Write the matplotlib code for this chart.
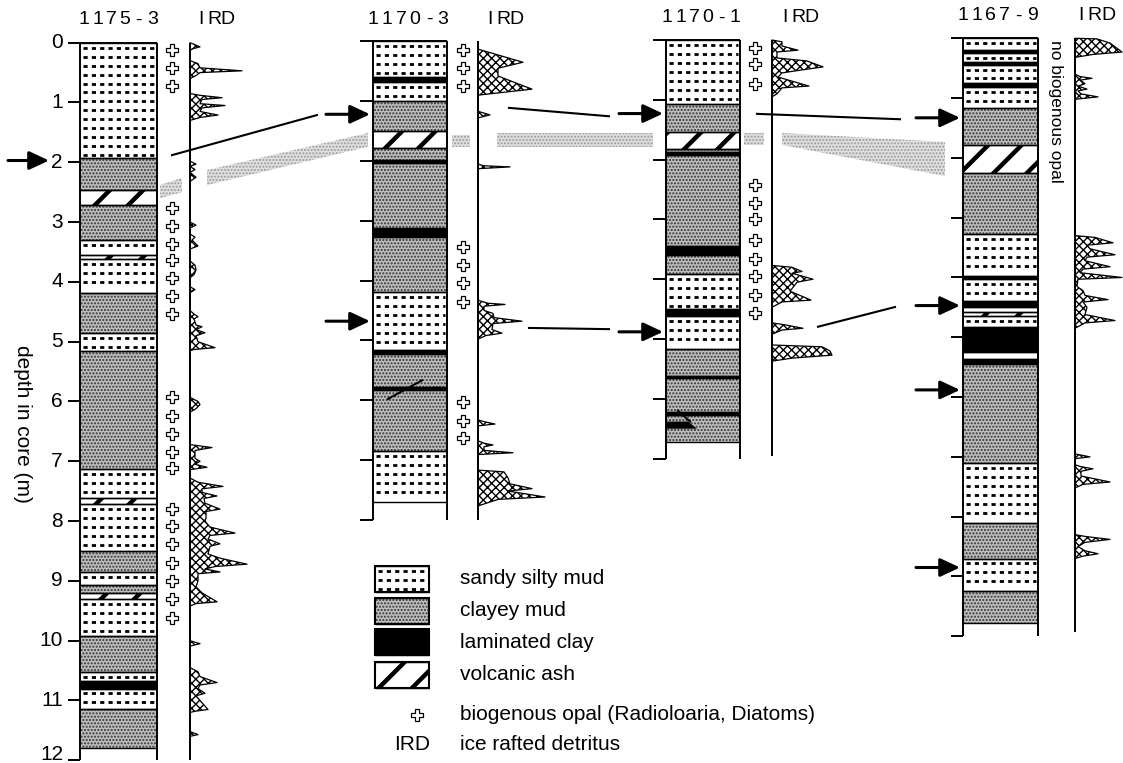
import numpy as np
import matplotlib.pyplot as plt
from matplotlib.patches import Rectangle, Polygon

plt.rcParams['font.family'] = ['Liberation Sans', 'DejaVu Sans']

# core names
cores = ['1175-3', '1170-3', '1170-1', '1167-9']

# lithology (top m, bottom m, type)  s=sandy silty mud, c=clayey mud, l=laminated clay, a=volcanic ash
lith_1175_3 = [(0.00, 1.93, 's'), (1.93, 2.47, 'c'), (2.47, 2.72, 'a'), (2.72, 3.30, 'c'),
               (3.30, 3.55, 's'), (3.55, 3.62, 'a'), (3.62, 4.18, 's'), (4.18, 4.85, 'c'),
               (4.85, 5.15, 's'), (5.15, 7.13, 'c'), (7.13, 7.62, 's'), (7.62, 7.72, 'a'),
               (7.72, 8.50, 's'), (8.50, 8.85, 'c'), (8.85, 9.07, 's'), (9.07, 9.20, 'c'),
               (9.20, 9.30, 'a'), (9.30, 9.92, 's'), (9.92, 10.52, 'c'), (10.52, 10.68, 's'),
               (10.68, 10.80, 'l'), (10.80, 11.15, 's'), (11.15, 11.80, 'c')]
lith_1170_3 = [(0.00, 0.60, 's'), (0.60, 0.68, 'l'), (0.68, 1.00, 's'), (1.00, 1.50, 'c'),
               (1.50, 1.78, 'a'), (1.78, 1.98, 'c'), (1.98, 2.03, 'l'), (2.03, 3.13, 'c'),
               (3.13, 3.27, 'l'), (3.27, 4.20, 'c'), (4.20, 5.17, 's'), (5.17, 5.23, 'l'),
               (5.23, 5.78, 'c'), (5.78, 5.83, 'l'), (5.83, 6.85, 'c'), (6.85, 7.70, 's')]
lith_1170_1 = [(0.00, 1.07, 's'), (1.07, 1.53, 'c'), (1.53, 1.83, 'a'), (1.83, 1.87, 'c'),
               (1.87, 1.92, 'l'), (1.92, 3.45, 'c'), (3.45, 3.60, 'l'), (3.60, 3.92, 'c'),
               (3.92, 4.50, 's'), (4.50, 4.62, 'l'), (4.62, 5.17, 's'), (5.17, 5.62, 'c'),
               (5.62, 5.66, 'l'), (5.66, 6.22, 'c'), (6.22, 6.27, 'l'), (6.27, 6.72, 'c')]
lith_1167_9 = [(0.00, 0.20, 's'), (0.20, 0.25, 'l'), (0.25, 0.40, 's'), (0.40, 0.44, 'l'),
               (0.44, 0.75, 's'), (0.75, 0.82, 'l'), (0.82, 1.17, 's'), (1.17, 1.78, 'c'),
               (1.78, 2.25, 'a'), (2.25, 3.28, 'c'), (3.28, 3.98, 's'), (3.98, 4.03, 'l'),
               (4.03, 4.40, 's'), (4.40, 4.50, 'l'), (4.50, 4.58, 's'), (4.58, 4.65, 'a'),
               (4.65, 4.82, 's'), (4.82, 5.25, 'l'), (5.25, 5.36, 's'), (5.36, 5.45, 'l'),
               (5.45, 7.10, 'c'), (7.10, 8.10, 's'), (8.10, 8.70, 'c'), (8.70, 9.25, 's'),
               (9.25, 9.77, 'c')]

# biogenous opal occurrences (m)
opal_1175_3 = [0.13, 0.42, 0.72, 2.77, 3.07, 3.36, 3.64, 3.93, 4.24, 4.53,
               5.93, 6.24, 6.54, 6.84, 7.12, 7.79, 8.08, 8.38, 8.70, 9.00, 9.30, 9.62]
opal_1170_3 = [0.15, 0.45, 0.75, 3.44, 3.74, 4.04, 4.36, 6.03, 6.35, 6.63]
opal_1170_1 = [0.13, 0.40, 0.73, 2.42, 2.72, 3.00, 3.34, 3.66, 3.94, 4.26, 4.56]
opal_1167_9 = []

# IRD (depth m, relative amount)
ird_1175_3 = [(0.00, 0), (0.02, 0.3), (0.07, 1.0), (0.10, 0.3), (0.13, 0),
              (0.30, 0), (0.35, 0.8), (0.42, 1.0), (0.47, 5.2), (0.50, 1.0), (0.55, 0.6), (0.60, 0),
              (0.85, 0), (0.88, 1.0), (0.92, 3.2), (0.95, 1.2), (1.02, 1.0), (1.05, 3.5), (1.09, 1.2),
              (1.15, 1.0), (1.21, 2.8), (1.25, 1.0), (1.30, 0),
              (1.98, 0), (2.03, 0.6), (2.07, 0), (2.12, 0.5), (2.17, 0), (2.25, 0.6), (2.32, 0),
              (3.00, 0), (3.05, 0.6), (3.10, 0), (3.20, 0), (3.25, 0.5), (3.30, 0.2), (3.40, 0.8), (3.45, 0),
              (3.65, 0), (3.72, 0.5), (3.80, 0.6), (3.88, 0.4), (3.93, 0),
              (4.08, 0), (4.13, 0.5), (4.18, 0),
              (4.48, 0), (4.55, 0.5), (4.58, 0.8), (4.62, 0.4), (4.72, 0.6), (4.75, 1.2), (4.80, 0.6),
              (4.85, 1.5), (4.90, 0.6), (5.00, 0.8), (5.10, 2.5), (5.13, 0.4), (5.15, 0),
              (5.93, 0), (6.00, 0.8), (6.05, 1.0), (6.12, 0.6), (6.18, 0),
              (6.72, 0), (6.77, 2.2), (6.82, 0.5), (6.95, 0.5), (7.00, 1.0), (7.05, 0.5), (7.10, 1.7), (7.14, 0),
              (7.28, 0), (7.35, 0.8), (7.42, 3.3), (7.46, 1.2), (7.52, 1.2), (7.58, 2.7), (7.62, 1.4),
              (7.70, 1.5), (7.80, 3.0), (7.84, 1.6), (7.95, 1.6), (8.00, 1.5), (8.10, 2.0), (8.20, 4.5),
              (8.24, 2.0), (8.30, 1.8), (8.38, 3.0), (8.42, 2.0), (8.55, 1.8), (8.62, 3.0), (8.72, 5.7),
              (8.76, 2.5), (8.80, 1.5), (8.85, 3.0), (8.88, 0.8), (8.93, 0.8), (9.00, 0.8), (9.10, 0.6),
              (9.20, 1.2), (9.35, 2.7), (9.38, 0.6), (9.42, 0),
              (10.00, 0), (10.05, 1.0), (10.09, 0),
              (10.45, 0), (10.52, 0.8), (10.60, 1.0), (10.70, 2.7), (10.74, 1.0), (10.80, 0.8), (10.88, 1.5),
              (10.92, 0.6), (11.00, 1.0), (11.15, 1.8), (11.18, 0.5), (11.20, 0),
              (11.52, 0), (11.57, 0.8), (11.60, 0)]
ird_1170_3 = [(0.13, 0), (0.35, 4.5), (0.45, 2.0), (0.58, 2.0), (0.80, 5.4), (0.90, 0),
              (1.17, 0), (1.23, 1.2), (1.28, 0),
              (2.05, 0), (2.08, 0.5), (2.10, 3.2), (2.13, 0),
              (4.33, 0), (4.38, 1.0), (4.40, 2.7), (4.43, 0.6), (4.50, 0.6), (4.55, 1.5), (4.62, 1.6),
              (4.68, 4.4), (4.72, 1.5), (4.82, 1.4), (4.88, 2.4), (4.92, 0.8), (4.98, 0),
              (6.33, 0), (6.36, 0.6), (6.40, 1.7), (6.43, 0),
              (6.68, 0), (6.72, 0.6), (6.75, 1.5), (6.78, 0.6), (6.84, 0.6), (6.88, 3.5), (6.91, 0),
              (7.17, 0), (7.20, 2.6), (7.30, 3.0), (7.40, 3.2), (7.48, 5.4), (7.52, 3.0), (7.62, 6.7),
              (7.66, 2.0), (7.77, 0)]
ird_1170_1 = [(0.00, 0), (0.03, 1.0), (0.10, 1.0), (0.17, 2.6), (0.20, 0.5), (0.30, 0.5), (0.35, 3.5),
              (0.45, 5.1), (0.50, 3.0), (0.55, 1.0), (0.62, 0.6), (0.77, 3.7), (0.80, 1.0), (0.90, 0.5), (0.95, 0),
              (3.77, 0), (3.80, 2.0), (3.87, 3.0), (3.90, 2.0), (4.00, 4.1), (4.05, 2.5), (4.20, 1.8),
              (4.35, 3.9), (4.38, 1.0), (4.47, 0),
              (4.73, 0), (4.76, 1.2), (4.82, 3.1), (4.85, 1.0), (4.92, 0),
              (5.10, 0), (5.13, 5.0), (5.20, 5.8), (5.27, 6.0), (5.32, 2.0), (5.37, 0)]
ird_1167_9 = [(0.00, 0), (0.01, 2.2), (0.08, 3.5), (0.23, 4.7), (0.27, 1.8), (0.32, 0),
              (0.60, 0), (0.64, 0.5), (0.67, 1.7), (0.70, 0.5), (0.76, 1.0), (0.80, 0.3), (0.85, 1.2),
              (0.88, 0.3), (0.93, 0.6), (0.98, 2.3), (1.02, 0),
              (3.30, 0), (3.33, 2.0), (3.42, 3.8), (3.46, 1.2), (3.52, 1.5), (3.62, 4.0), (3.66, 1.2),
              (3.72, 1.0), (3.82, 3.5), (3.86, 0.8), (3.92, 0.5), (4.00, 4.7), (4.03, 0.3), (4.15, 0.2),
              (4.22, 0.8), (4.30, 1.0), (4.37, 3.3), (4.41, 0.8), (4.50, 1.2), (4.62, 1.0), (4.72, 4.0),
              (4.76, 1.0), (4.85, 0),
              (6.95, 0), (7.00, 1.5), (7.03, 0), (7.13, 0), (7.16, 0.5), (7.20, 1.8), (7.24, 0.6),
              (7.32, 0.6), (7.42, 3.5), (7.46, 0.8), (7.52, 0),
              (8.30, 0), (8.33, 1.0), (8.38, 3.5), (8.43, 1.0), (8.50, 0.3), (8.57, 1.0), (8.62, 2.3),
              (8.66, 0.8), (8.70, 0)]

# depths marked by arrows (m)
arrows_1175_3 = [1.97]
arrows_1170_3 = [1.22, 4.68]
arrows_1170_1 = [1.23, 4.88]
arrows_1167_9 = [1.33, 4.47, 5.88, 8.85]

lith = dict(zip(cores, [lith_1175_3, lith_1170_3, lith_1170_1, lith_1167_9]))
opal = dict(zip(cores, [opal_1175_3, opal_1170_3, opal_1170_1, opal_1167_9]))
ird = dict(zip(cores, [ird_1175_3, ird_1170_3, ird_1170_1, ird_1167_9]))
arrows = dict(zip(cores, [arrows_1175_3, arrows_1170_3, arrows_1170_1, arrows_1167_9]))

# page layout (pixels across, depth offset in m)
W, H = 1123, 763
S = 59.8      # px per metre
Y0 = 42.7     # row of 0 m
IRD_PX = 10   # px per IRD unit
layout = {
    '1175-3': dict(off=0.0, x0=80, x1=157, tick=68, opal=172, ird=190, bot=12.0, ird_bot=12.0,
                   title=(77, 159, 20), irdlab=(194, 234, 20), arrow=(8, 49)),
    '1170-3': dict(off=-0.023, x0=373, x1=447, tick=360, opal=463, ird=478, bot=8.0, ird_bot=8.0,
                   title=(366, 450, 19), irdlab=(483, 523, 19), arrow=(326, 370)),
    '1170-1': dict(off=-0.045, x0=666, x1=740, tick=653, opal=755, ird=772, bot=7.0, ird_bot=6.95,
                   title=(660, 742, 18), irdlab=(778, 818, 18), arrow=(619, 663)),
    '1167-9': dict(off=-0.074, x0=963, x1=1038, tick=951, opal=None, ird=1075, bot=10.0, ird_bot=9.93,
                   title=(956, 1039, 16), irdlab=(1074, 1115, 16), arrow=(916, 960)),
}

# correlation lines and tephra bands (x px, depth m)
corr_lines = [(172, 1.88, 317, 1.21), (509, 1.09, 609, 1.23), (757, 1.19, 900, 1.28),
              (529, 4.77, 609, 4.79), (818, 4.75, 895, 4.42)]
bands = [[(160, 2.38), (182, 2.26), (182, 2.50), (160, 2.60)],
         [(207, 2.13), (368, 1.51), (368, 1.74), (207, 2.38)],
         [(452, 1.54), (470, 1.54), (470, 1.74), (452, 1.74)],
         [(497, 1.51), (653, 1.51), (653, 1.74), (497, 1.74)],
         [(744, 1.51), (764, 1.51), (764, 1.71), (744, 1.71)],
         [(782, 1.51), (945, 1.66), (945, 2.23), (782, 1.71)]]

legend_kinds = ['s', 'c', 'l', 'a']
legend_labels = ['sandy silty mud', 'clayey mud', 'laminated clay', 'volcanic ash']


def draw_layer(a, x0, x1, top, bot, kind, step):
    h = bot - top
    if kind == 's':
        a.add_patch(Rectangle((x0, top), x1 - x0, h, facecolor='white', lw=0, zorder=2))
        rows = np.arange(top + step * 0.55, bot - step * 0.25, step)
        a.hlines(rows, x0 + 3, x1 - 2, colors='black', lw=2, linestyles=(0, (1.5, 1.5)), zorder=3)
    elif kind == 'c':
        a.add_patch(Rectangle((x0, top), x1 - x0, h, facecolor='#bebebe', edgecolor='#333333',
                              hatch='.....', lw=0, zorder=2))
    elif kind == 'l':
        a.add_patch(Rectangle((x0, top), x1 - x0, h, facecolor='black', lw=0, zorder=2))
    elif kind == 'a':
        with plt.rc_context({'hatch.linewidth': 3.2}):
            p = Rectangle((x0, top), x1 - x0, h, facecolor='white', edgecolor='black',
                          hatch='/', lw=0, zorder=2)
        if hasattr(p, 'set_hatch_linewidth'):
            p.set_hatch_linewidth(3.2)
        a.add_patch(p)
    a.hlines([top, bot], x0, x1, colors='black', lw=1, zorder=4)


def spaced(a, x0, x1, y, s, size=14):
    step = (x1 - x0) / len(s)
    for i, ch in enumerate(s):
        a.text(x0 + step * (i + 0.5), y, ch, ha='center', va='center', fontsize=size)


fig = plt.figure(figsize=(W / 100, H / 100), dpi=100)
ax = fig.add_axes([0, 0, 1, 1])
ax.set_xlim(0, W)
ax.set_ylim((H - Y0) / S, -Y0 / S)
ax.axis('off')
lay = fig.add_axes([0, 0, 1, 1])
lay.set_xlim(0, W)
lay.set_ylim(H, 0)
lay.axis('off')

# tephra bands + correlation lines
for b in bands:
    ax.add_patch(Polygon(b, closed=True, facecolor='#e0e0e0', edgecolor='#999999',
                         hatch='.....', lw=0, zorder=1))
for x0, d0, x1, d1 in corr_lines:
    ax.plot([x0, x1], [d0, d1], color='black', lw=1.5, zorder=5)

for name in cores:
    L = layout[name]
    off = L['off']
    for top, bot, kind in lith[name]:
        draw_layer(ax, L['x0'], L['x1'], top + off, bot + off, kind, 0.15)
    # core outline and metre ticks
    ax.vlines([L['x0'], L['x1']], off, L['bot'] + off, colors='black', lw=1.4, zorder=5)
    ax.hlines(off, L['tick'], L['x1'], colors='black', lw=1.4, zorder=5)
    ticks = np.arange(1, int(L['bot']) + 1)
    ax.hlines(ticks + off, L['tick'], L['x0'], colors='black', lw=1.4, zorder=5)

    # IRD curve
    d = np.array([p[0] for p in ird[name]]) + off
    v = np.array([p[1] for p in ird[name]])
    ax.fill_betweenx(d, L['ird'], L['ird'] + v * IRD_PX, facecolor='white', edgecolor='black',
                     hatch='xxxx', lw=0.9, zorder=3)
    ax.vlines(L['ird'], off, L['ird_bot'] + off, colors='black', lw=1.4, zorder=5)

    # biogenous opal
    if opal[name]:
        od = np.array(opal[name]) + off
        ax.plot(np.full(len(od), L['opal']), od, ls='none', marker='P', ms=8,
                mfc='white', mec='black', mew=0.9, zorder=6)

    # arrows
    for ad in arrows[name]:
        ax.annotate('', xy=(L['arrow'][1], ad + off), xytext=(L['arrow'][0], ad + off),
                    arrowprops=dict(arrowstyle='-|>,head_length=0.6,head_width=0.28', color='black',
                                    lw=2.2, mutation_scale=20, shrinkA=0, shrinkB=0), zorder=7)

    spaced(lay, *L['title'], name)
    spaced(lay, *L['irdlab'], 'IRD')

# small structures inside cores
off = layout['1170-3']['off']
ax.plot([388, 422], [5.98 + off, 5.67 + off], color='black', lw=1.5, zorder=6)
off = layout['1170-1']['off']
ax.add_patch(Polygon([(666, 6.38 + off), (688, 6.38 + off), (697, 6.50 + off), (666, 6.50 + off)],
                     facecolor='black', lw=0, zorder=6))
ax.plot([678, 690], [6.20 + off, 6.38 + off], color='black', lw=1.5, zorder=6)

# depth scale of 1175-3
for k in range(0, 13):
    ax.text(63, min(k, 11.9), str(k), ha='right', va='center', fontsize=15)
lay.text(22, 424, 'depth in core (m)', rotation=270, ha='center', va='center', fontsize=15)
ax.text(1055, 1.23 + layout['1167-9']['off'], 'no biogenous opal', rotation=270,
        ha='center', va='center', fontsize=12.5)

# legend
box_tops = [566, 598, 629, 662]
for top, kind, lab in zip(box_tops, legend_kinds, legend_labels):
    draw_layer(lay, 375, 429, top, top + 26, kind, 9)
    lay.add_patch(Rectangle((375, top), 54, 26, facecolor='none', edgecolor='black', lw=1.5, zorder=6))
    lay.text(460, top + 13, lab, ha='left', va='center', fontsize=15)
lay.plot([417], [715], ls='none', marker='P', ms=8, mfc='white', mec='black', mew=0.9)
lay.text(460, 715, 'biogenous opal (Radioloaria, Diatoms)', ha='left', va='center', fontsize=15)
lay.text(430, 745, 'IRD', ha='right', va='center', fontsize=15)
lay.text(460, 745, 'ice rafted detritus', ha='left', va='center', fontsize=15)

fig.savefig('out.png', dpi=100)
